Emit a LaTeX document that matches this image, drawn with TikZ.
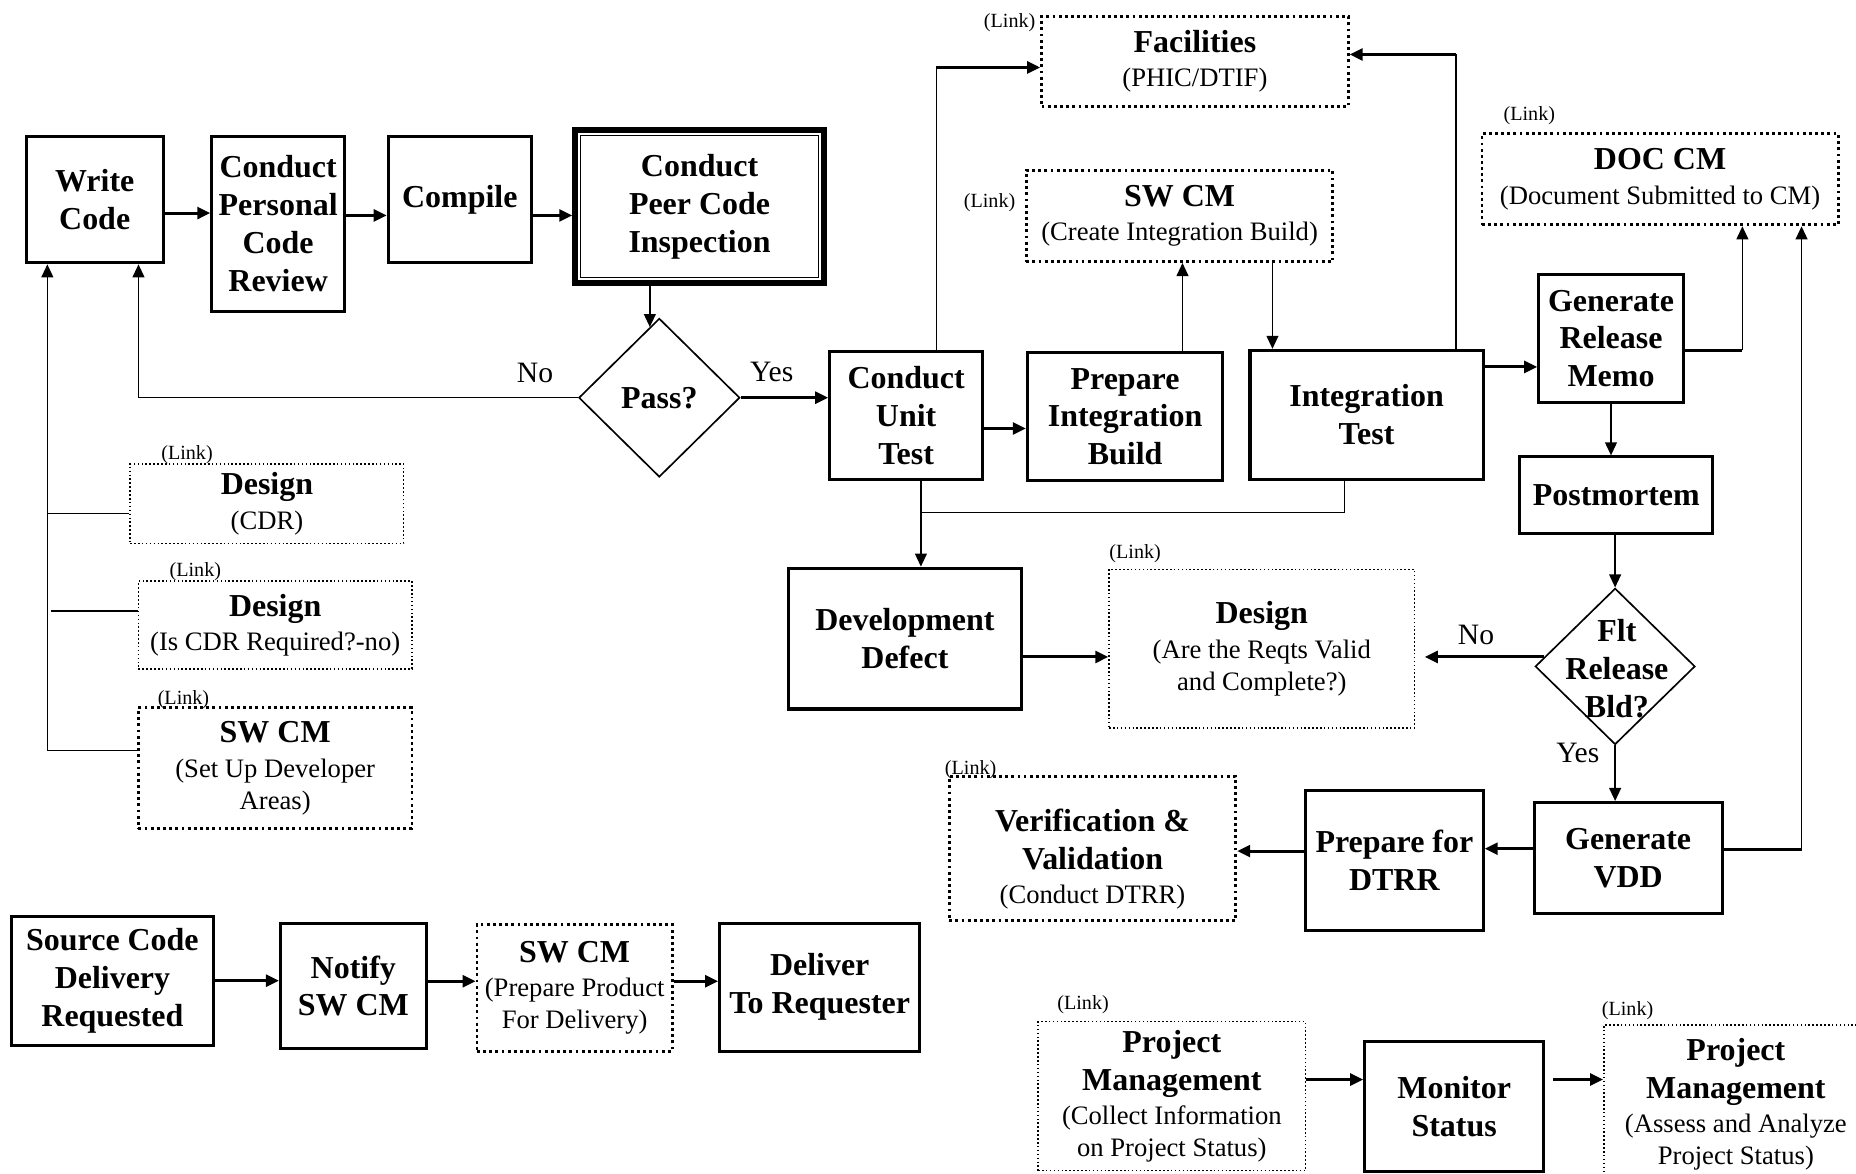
\documentclass[tikz,border=0pt]{standalone}
\usepackage{fontspec}
\setmainfont{Liberation Serif}
\usetikzlibrary{arrows.meta,shapes.geometric,calc}

\newcommand\ttlf{\fontsize{27}{32}\selectfont\bfseries}
\newcommand\subf{\fontsize{22.5}{27}\selectfont\mdseries}
\newcommand\lnkf{\fontsize{17}{20}\selectfont\mdseries}
\newcommand\ynf{\fontsize{25}{30}\selectfont\mdseries}

\begin{document}
\begin{tikzpicture}[x=1pt,y=-1pt,
  wh/.style 2 args={minimum width=#1pt, minimum height=#2pt},
  proc/.style={draw, line width=2.6pt, inner sep=0pt, align=center, font=\ttlf},
  dotthin/.style={draw, line width=1.3pt, dash pattern=on 1.3pt off 2pt,
    inner sep=0pt, align=center, font=\ttlf},
  dotthick/.style={draw, line width=2.4pt, dash pattern=on 2.4pt off 2.8pt,
    inner sep=0pt, align=center, font=\ttlf},
  decision/.style={draw, diamond, line width=1.4pt, inner sep=0pt, align=center, font=\ttlf},
  link/.style={inner sep=0pt, font=\lnkf},
  yn/.style={inner sep=0pt, font=\ynf},
  ln/.style={line width=1.3pt},
  tk/.style={line width=2.6pt},
  arr/.style={-{Triangle[length=11pt,width=10pt]}}]

\useasboundingbox (0,0) rectangle (1568,991);

% ---------------- coding loop ----------------
\node[proc, wh={116}{107}] (wc) at (80,168.5) {Write\\Code};
\node[proc, wh={112}{148}] (cpcr) at (235,189) {Conduct\\Personal\\Code\\Review};
\node[proc, wh={121}{107}] (comp) at (388.5,168.5) {Compile};
\node[draw, line width=5pt, inner sep=0pt, align=center, font=\ttlf, wh={210}{129}] (pci) at (591,174.5) {Conduct\\Peer Code\\Inspection};
\draw[line width=1.5pt] ([shift={(7pt,-7pt)}]pci.north west) rectangle ([shift={(-7pt,7pt)}]pci.south east);
\node[decision, minimum width=136pt, minimum height=134pt] (pass) at (557,336) {Pass?};
\node[yn] (no1) at (452,315) {No};
\node[yn] (yes1) at (652,314) {Yes};

% ---------------- design / CM inputs ----------------
\node[dotthin, wh={231}{67}] (dcdr) at (225.5,425.5) {Design\\[-3pt]\subf (CDR)};
\node[link] (lcdr) at (158,384) {(Link)};
\node[dotthin, wh={231}{74}] (dreq) at (232.5,528) {Design\\[-3pt]\subf (Is CDR Required?-no)};
\node[link] (lreq) at (165,483) {(Link)};
\node[dotthick, wh={231}{102}] (swset) at (232.5,649) {SW CM\\[-3pt]\subf (Set Up Developer\\[-5pt]\subf Areas)};
\node[link] (lset) at (155,591) {(Link)};

% ---------------- test and integration ----------------
\node[proc, wh={129}{108}] (cut) at (765.5,351) {Conduct\\Unit\\Test};
\node[proc, wh={165}{108}] (pib) at (950.5,352) {Prepare\\Integration\\Build};
\node[proc, wh={197}{109}] (it) at (1154.5,350.5) {Integration\\Test};
\node[dotthick, wh={259}{76}] (fac) at (1009.5,52) {Facilities\\[-3pt]\subf (PHIC/DTIF)};
\node[link] (lfac) at (853,19) {(Link)};
\node[dotthick, wh={259}{77}] (swc) at (996.5,182.5) {SW CM\\[-3pt]\subf (Create Integration Build)};
\node[link] (lswc) at (836,171) {(Link)};
\node[dotthick, wh={301}{77}] (doc) at (1402.5,151.5) {DOC CM\\[-3pt]\subf (Document Submitted to CM)};
\node[link] (ldoc) at (1292,98) {(Link)};
\node[proc, wh={122}{108}] (grm) at (1361,286) {Generate\\Release\\Memo};
\node[proc, wh={163}{65}] (pmt) at (1365.5,418.5) {Postmortem};
\node[decision, minimum width=135pt, minimum height=132pt] (flt) at (1364.5,563) {};
\node[inner sep=0pt, align=center, font=\ttlf] (fltt) at (1366,565) {Flt\\Release\\Bld?};
\node[yn] (no2) at (1247,536) {No};
\node[yn] (yes2) at (1333,636) {Yes};
\node[proc, wh={197}{119}] (dd) at (764.5,539.5) {Development\\Defect};
\node[dotthin, wh={258}{134}] (dr) at (1066,548) {Design\\[-3pt]\subf (Are the Reqts Valid\\[-5pt]\subf and Complete?)};
\node[link] (ldr) at (959,468) {(Link)};
\node[proc, wh={159}{94}] (vdd) at (1375.5,725) {Generate\\VDD};
\node[proc, wh={150}{118}] (pdt) at (1178,727) {Prepare for\\DTRR};
\node[dotthick, wh={242}{122}] (vv) at (923,717) {};
\node[inner sep=0pt, align=center, font=\ttlf] (vvt) at (923,726) {Verification \&\\Validation\\[-3pt]\subf (Conduct DTRR)};
\node[link] (lvv) at (820,650) {(Link)};

% ---------------- delivery ----------------
\node[proc, wh={170}{109}] (src) at (95,828.5) {Source Code\\Delivery\\Requested};
\node[proc, wh={123}{106}] (ntf) at (298.5,833) {Notify\\SW CM};
\node[dotthick, wh={165}{107}] (swp) at (485.5,834.5) {SW CM\\[-3pt]\subf (Prepare Product\\[-5pt]\subf For Delivery)};
\node[proc, wh={169}{108}] (dlv) at (692.5,834) {Deliver\\To Requester};

% ---------------- project management ----------------
\node[dotthin, wh={226}{126}] (pm1) at (990,926) {Project\\Management\\[-3pt]\subf (Collect Information\\[-5pt]\subf on Project Status)};
\node[link] (lpm1) at (915,849) {(Link)};
\node[proc, wh={151}{110}] (mon) at (1228.5,935) {Monitor\\Status};
\node[dotthin, wh={223}{134}] (pm2) at (1466.5,933) {Project\\Management\\[-3pt]\subf (Assess and Analyze\\[-5pt]\subf Project Status)};
\node[link] (lpm2) at (1375,854) {(Link)};

% ---------------- connectors: coding loop ----------------
\draw[tk,arr] ([yshift=-11.5pt]wc.east) -- ([yshift=-11.5pt]wc.east -| cpcr.west);
\draw[tk,arr] ([yshift=7pt]cpcr.east) -- ([yshift=7pt]cpcr.east -| comp.west);
\draw[tk,arr] ([yshift=-13.5pt]comp.east) -- ([yshift=-13.5pt]comp.east -| pci.west);
\draw[ln,arr] ([xshift=-8pt]pass.north |- pci.south) -- ([xshift=-8pt,yshift=-8pt]pass.north);
\draw[ln,arr] (pass.west) -| ([xshift=37pt]wc.south);
\draw[tk,arr] (pass.east) -- (pass.east -| cut.west);

% inputs feeding back into Write Code
\coordinate (bus) at (40,634);
\draw[ln,arr] (bus) -- ([xshift=-40pt]wc.south);
\draw[ln] ([yshift=-8.5pt]dcdr.west) -- ++(-70pt,0pt);
\draw[ln] ([yshift=12pt]dreq.west) -- ++(-73pt,0pt);
\draw[ln] ([yshift=15pt]swset.west) -- (bus);

% ---------------- connectors: test and integration ----------------
\coordinate (cf) at (791,57);
\draw[ln] ([xshift=25.5pt]cut.north) -- (cf);
\draw[tk,arr] (cf) -- (cf -| fac.west);
\coordinate (itf) at (1230,46);
\draw[ln] ([xshift=75.5pt]it.north) -- (itf);
\draw[tk,arr] (itf) -- (itf -| fac.east);
\draw[tk,arr] ([yshift=-11pt]cut.east) -- ([yshift=-11pt]cut.east -| pib.west);
\draw[ln,arr] ([xshift=48.5pt]pib.north) -- ([xshift=48.5pt]pib.north |- swc.south);
\draw[ln,arr] ([xshift=78.5pt]swc.south) -- ([xshift=78.5pt]swc.south |- it.north);
\draw[tk,arr] ([yshift=40.5pt]it.east) -- ([yshift=40.5pt]it.east -| grm.west);
\coordinate (gd) at (1472,296);
\draw[tk] ([yshift=-10pt]grm.east) -- (gd);
\draw[ln,arr] (gd) -- (gd |- doc.south);
\draw[ln,arr] (grm.south) -- (grm.south |- pmt.north);
\draw[ln,arr] (pmt.south -| flt.north) -- (flt.north);
\draw[tk,arr] ([xshift=8pt,yshift=8pt]flt.west) -- ([xshift=8pt,yshift=8pt]flt.west -| dr.east);
\draw[ln,arr] (flt.south) -- (flt.south |- vdd.north);
\coordinate (vd) at (1522,718);
\draw[tk] ([yshift=7pt]vdd.east) -- (vd);
\draw[ln,arr] (vd) -- (vd |- doc.south);
\draw[tk,arr] ([yshift=8pt]vdd.west) -- ([yshift=8pt]vdd.west -| pdt.east);
\draw[tk,arr] ([yshift=8pt]pdt.west) -- ([yshift=8pt]pdt.west -| vv.east);
\draw[ln,arr] ([xshift=12.5pt]cut.south) -- ([xshift=12.5pt]cut.south |- dd.north);
\coordinate (tj) at (778,433);
\draw[ln] (tj) -| ([xshift=-18.5pt]it.south);
\draw[tk,arr] ([yshift=-15.5pt]dd.east) -- ([yshift=-15.5pt]dd.east -| dr.west);

% ---------------- connectors: delivery and status ----------------
\draw[tk,arr] (src.east) -- (src.east -| ntf.west);
\draw[tk,arr] ([yshift=4pt]ntf.east) -- ([yshift=4pt]ntf.east -| swp.west);
\draw[tk,arr] ([yshift=5.5pt]swp.east) -- ([yshift=5.5pt]swp.east -| dlv.west);
\draw[tk,arr] ([yshift=14pt]pm1.east) -- ([yshift=14pt]pm1.east -| mon.west);
\draw[tk,arr] ([xshift=7pt,yshift=23pt]mon.east) -- ([yshift=23pt]mon.east -| pm2.west);
\end{tikzpicture}
\end{document}
